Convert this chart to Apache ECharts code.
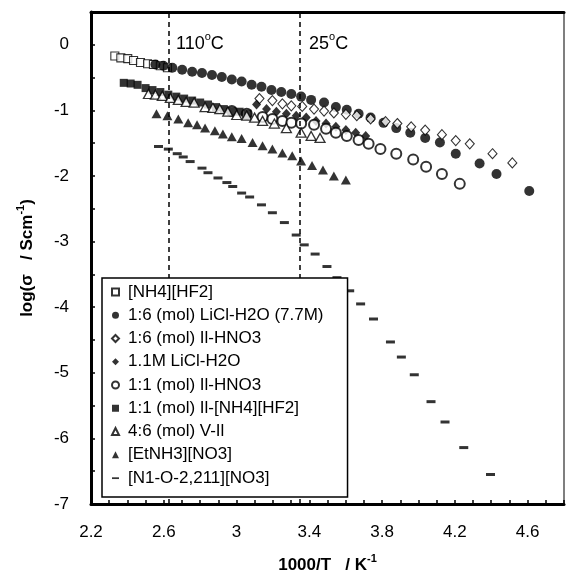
<!DOCTYPE html>
<html><head><meta charset="utf-8">
<script src="https://cdn.jsdelivr.net/npm/echarts@6/dist/echarts.min.js"></script>
<style>html,body{margin:0;padding:0;background:#fff}#c{width:567px;height:584px}</style>
</head><body><div id="c"></div>
<script>
// ---- data ----
const seriesNames = ['[NH4][HF2]', '1:6 (mol) LiCl-H2O (7.7M)', '1:6 (mol) Il-HNO3', '1.1M LiCl-H2O',
  '1:1 (mol) Il-HNO3', '1:1 (mol) Il-[NH4][HF2]', '4:6 (mol) V-Il', '[EtNH3][NO3]', '[N1-O-2,211][NO3]'];
const xTickLabels = [2.2, 2.6, 3, 3.4, 3.8, 4.2, 4.6];
const yTickLabels = [0, -1, -2, -3, -4, -5, -6, -7];
const refLines = [2.628, 3.355];       // 110 °C and 25 °C
const refTexts = ['110', '25'];

const nh4hf2 = [[2.331,-0.17],[2.364,-0.20],[2.402,-0.21],[2.434,-0.24],[2.472,-0.27],[2.511,-0.29],[2.543,-0.30],[2.581,-0.32],[2.620,-0.35]];
const licl77 = [[2.554,-0.30],[2.598,-0.32],[2.647,-0.35],[2.701,-0.38],[2.756,-0.41],[2.810,-0.43],[2.865,-0.46],[2.919,-0.49],[2.974,-0.53],[3.028,-0.56],[3.083,-0.61],[3.137,-0.64],[3.192,-0.69],[3.246,-0.72],[3.301,-0.75],[3.355,-0.79],[3.410,-0.84],[3.481,-0.88],[3.546,-0.95],[3.606,-0.99],[3.671,-1.05],[3.737,-1.11],[3.808,-1.19],[3.878,-1.27],[3.955,-1.34],[4.037,-1.42],[4.118,-1.49],[4.205,-1.66],[4.336,-1.81],[4.429,-1.97],[4.609,-2.23]];
const il16hno3 = [[3.126,-0.82],[3.197,-0.85],[3.252,-0.90],[3.301,-0.93],[3.361,-0.94],[3.426,-0.98],[3.481,-1.01],[3.535,-1.04],[3.601,-1.06],[3.661,-1.08],[3.737,-1.13],[3.819,-1.17],[3.884,-1.20],[3.960,-1.25],[4.037,-1.30],[4.129,-1.37],[4.205,-1.46],[4.282,-1.51],[4.407,-1.66],[4.516,-1.80]];
const licl11 = [[3.110,-0.91],[3.165,-0.98],[3.219,-1.02],[3.274,-1.05],[3.328,-1.08],[3.383,-1.11],[3.437,-1.16],[3.492,-1.20],[3.546,-1.25],[3.601,-1.30],[3.655,-1.34],[3.710,-1.39]];
const il11hno3 = [[2.974,-1.01],[3.056,-1.05],[3.143,-1.10],[3.197,-1.13],[3.252,-1.16],[3.301,-1.19],[3.355,-1.20],[3.426,-1.22],[3.492,-1.28],[3.546,-1.34],[3.606,-1.39],[3.671,-1.45],[3.726,-1.51],[3.791,-1.59],[3.878,-1.66],[3.971,-1.75],[4.042,-1.86],[4.129,-1.97],[4.227,-2.12]];
const il11nh4 = [[2.380,-0.58],[2.418,-0.59],[2.456,-0.61],[2.500,-0.66],[2.538,-0.69],[2.581,-0.72],[2.625,-0.76],[2.669,-0.79],[2.712,-0.82],[2.756,-0.85],[2.800,-0.88],[2.843,-0.91],[2.887,-0.95],[2.930,-0.98],[2.974,-1.01],[3.017,-1.02],[3.061,-1.05]];
const vil46 = [[2.516,-0.75],[2.554,-0.76],[2.592,-0.78],[2.636,-0.81],[2.680,-0.84],[2.723,-0.87],[2.767,-0.88],[2.827,-0.95],[2.870,-0.96],[2.908,-0.98],[2.952,-1.02],[3.001,-1.07],[3.056,-1.08],[3.099,-1.11],[3.143,-1.16],[3.208,-1.20],[3.274,-1.27],[3.355,-1.34],[3.410,-1.39],[3.459,-1.42]];
const etnh3 = [[2.560,-1.05],[2.620,-1.08],[2.680,-1.13],[2.734,-1.19],[2.783,-1.22],[2.827,-1.27],[2.881,-1.31],[2.925,-1.36],[2.974,-1.40],[3.028,-1.43],[3.088,-1.49],[3.143,-1.54],[3.197,-1.59],[3.252,-1.65],[3.306,-1.69],[3.355,-1.77],[3.415,-1.84],[3.475,-1.91],[3.535,-2.00],[3.601,-2.06]];
const n1o2 = [[2.571,-1.55],[2.625,-1.59],[2.674,-1.66],[2.707,-1.71],[2.745,-1.78],[2.810,-1.88],[2.843,-1.95],[2.898,-2.03],[2.947,-2.10],[2.979,-2.16],[3.028,-2.26],[3.072,-2.32],[3.137,-2.44],[3.197,-2.56],[3.263,-2.71],[3.328,-2.90],[3.372,-3.05],[3.432,-3.19],[3.497,-3.38],[3.552,-3.55],[3.622,-3.75],[3.682,-3.95],[3.753,-4.18],[3.846,-4.53],[3.906,-4.76],[3.977,-5.03],[4.069,-5.44],[4.146,-5.75],[4.249,-6.14],[4.396,-6.55]];

const seriesData = [nh4hf2, licl77, il16hno3, licl11, il11hno3, il11nh4, vil46, etnh3, n1o2];

// ---- styles ----
const FONT = 'Liberation Sans, Arial, sans-serif';
const open = (bw) => ({color: '#fff', borderColor: '#000', borderWidth: bw});
const filled = {color: '#000', borderColor: '#000', borderWidth: 0};
const markStyles = [
  {symbol: 'rect', size: 8, style: open(1.1)},
  {symbol: 'circle', size: 10, style: filled},
  {symbol: 'diamond', size: [9, 10], style: open(1.1)},
  {symbol: 'diamond', size: [9, 10], style: filled},
  {symbol: 'circle', size: 10, style: open(2)},
  {symbol: 'rect', size: 8, style: filled},
  {symbol: 'triangle', size: [10, 9], style: open(1.3)},
  {symbol: 'triangle', size: [10, 9], style: filled},
  {symbol: 'rect', size: [9, 3], style: filled}
];
const dashIcon = 'path://M0,0M0,4L10,4L10,6.5L0,6.5ZM10,10';

const series = seriesNames.map((name, i) => ({
  name, type: 'scatter', data: seriesData[i],
  symbol: markStyles[i].symbol, symbolSize: markStyles[i].size,
  itemStyle: markStyles[i].style, z: 3 + i * 0.01,
  emphasis: {disabled: true}
}));
series.push({
  name: 'refs', type: 'scatter', data: [], silent: true,
  markLine: {
    silent: true, symbol: ['none', 'none'], label: {show: false},
    lineStyle: {type: [5, 4], color: '#000', width: 1.5},
    data: refLines.map(v => ({xAxis: v}))
  }
});

const isTick = (v, arr) => arr.some(t => Math.abs(t - v) < 1e-6);
const supRich = {sup: {fontSize: 11, lineHeight: 11, fontWeight: 'bold', verticalAlign: 'top', color: '#000', fontFamily: FONT}};

const chart = echarts.init(document.getElementById('c'), null, {renderer: 'canvas'});
chart.setOption({
  animation: false,
  backgroundColor: '#fff',
  textStyle: {fontFamily: FONT},
  grid: {left: 91, right: 1, top: 12, bottom: 80},
  xAxis: [{
    type: 'value', min: 2.2, max: 4.8, interval: 0.1,
    name: '1000/T   / K{sup|-1}', nameLocation: 'middle', nameGap: 49,
    nameTextStyle: {fontSize: 17, lineHeight: 24, fontWeight: 'bold', color: '#000', fontFamily: FONT, rich: supRich},
    axisLine: {onZero: false, lineStyle: {color: '#000', width: 3}},
    axisTick: {inside: true, length: 4, lineStyle: {color: '#000', width: 1.5}},
    axisLabel: {margin: 20, fontSize: 17, color: '#000', fontFamily: FONT,
      formatter: v => isTick(v, xTickLabels) ? String(Number(v.toFixed(1))) : ''},
    splitLine: {show: false}
  }, {
    type: 'value', position: 'top', min: 2.2, max: 4.8,
    axisLine: {onZero: false, lineStyle: {color: '#000', width: 3}},
    axisTick: {show: false}, axisLabel: {show: false}, splitLine: {show: false}
  }],
  yAxis: [{
    type: 'value', min: -7, max: 0.5, interval: 0.5,
    name: 'log(σ   / Scm{sup|-1})', nameLocation: 'middle', nameGap: 52, nameRotate: 90,
    nameTextStyle: {fontSize: 17, lineHeight: 24, fontWeight: 'bold', color: '#000', fontFamily: FONT, rich: supRich},
    axisLine: {onZero: false, lineStyle: {color: '#000', width: 3}},
    axisTick: {inside: true, length: 4, lineStyle: {color: '#000', width: 1.5}},
    axisLabel: {margin: 22, fontSize: 17, color: '#000', fontFamily: FONT,
      formatter: v => isTick(v, yTickLabels) ? String(Math.round(v)) : ''},
    splitLine: {show: false}
  }, {
    type: 'value', position: 'right', min: -7, max: 0.5,
    axisLine: {show: true, onZero: false, lineStyle: {color: '#555', width: 1.5}},
    axisTick: {show: false}, axisLabel: {show: false}, splitLine: {show: false}
  }],
  legend: {
    orient: 'vertical', left: 102, top: 278,
    padding: [5, 24, 10, 9], itemGap: 5.25, itemWidth: 7, itemHeight: 7,
    backgroundColor: '#fff', borderColor: '#000', borderWidth: 1.5, borderRadius: 0,
    selectedMode: false, z: 10,
    textStyle: {fontSize: 17, lineHeight: 18, color: '#000', fontFamily: FONT, padding: [0, 0, 0, 4]},
    data: seriesNames.map((n, i) => i === 8 ? {name: n, icon: dashIcon} : {name: n})
  },
  graphic: refTexts.map((t, i) => ({
    type: 'text', left: i === 0 ? 176 : 309, top: 31, z: 20,
    style: {
      text: t + '{o|o}C', fill: '#000', font: '18px ' + FONT, lineHeight: 26,
      rich: {o: {fontSize: 11, lineHeight: 11, verticalAlign: 'top', fill: '#000', fontFamily: FONT}}
    }
  })),
  series
});
</script></body></html>
